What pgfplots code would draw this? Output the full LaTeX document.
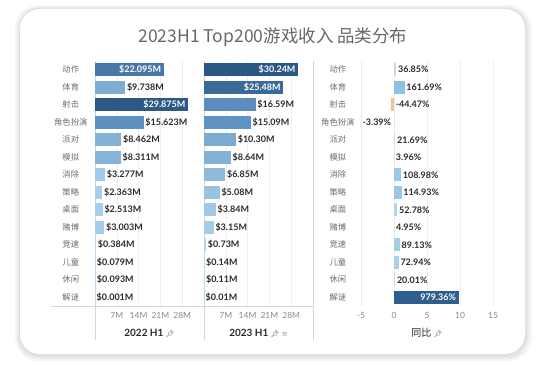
\documentclass[border=0pt]{standalone}
\usepackage{pgfplots}
\pgfplotsset{compat=1.18}
\usepackage{fontspec}
\setmainfont{Noto Sans CJK SC}[BoldFont={Noto Sans CJK SC Bold}]
\newfontfamily\numfont{Lato}
\newfontfamily\emo{Noto Emoji}
\newfontfamily\djv{DejaVu Sans}
\definecolor{cL}{HTML}{B5DBF2}
\definecolor{cM}{HTML}{5F93C3}
\definecolor{cD}{HTML}{2A5783}
\definecolor{gridc}{HTML}{EEEEEE}
\definecolor{divc}{HTML}{D6D6D6}
\definecolor{labc}{HTML}{6E6E6E}
\definecolor{tickc}{HTML}{8A8A8A}
\definecolor{valc}{HTML}{2A2A2A}
\definecolor{titlec}{HTML}{686868}
\definecolor{g0}{HTML}{C5D9E6}
\definecolor{g1}{HTML}{8CC3E2}
\definecolor{g2}{HTML}{EFC38F}
\definecolor{g3}{HTML}{EFE3D3}
\definecolor{g4}{HTML}{CFDCE6}
\definecolor{g5}{HTML}{DEE3E8}
\definecolor{g6}{HTML}{98C9E5}
\definecolor{g7}{HTML}{97C8E4}
\definecolor{g8}{HTML}{B5D5E9}
\definecolor{g9}{HTML}{DEE3E8}
\definecolor{g10}{HTML}{A1CDE7}
\definecolor{g11}{HTML}{A9D1E8}
\definecolor{g12}{HTML}{D0DDE7}
\definecolor{g13}{HTML}{2E5E8D}
\newcommand\pin{{\emo\fontsize{7}{7}\selectfont\textcolor{black!70}{📌}}}
\pgfplotsset{
 panel/.style={scale only axis, height=245pt, ymin=-0.5, ymax=13.5, y dir=reverse,
   ytick={0,...,13}, axis line style={draw=none}, major tick length=0pt,
   xmajorgrids, grid style={gridc, line width=0.5pt},
   tick label style={font=\numfont\fontsize{8.5}{9}\selectfont, text=tickc},
   xticklabel style={yshift=-3pt},
   /pgf/number format/assume math mode=true, clip=false,
   xlabel style={at={(axis description cs:0.5,0)}, anchor=center, yshift=-27pt, text=valc}},
 cats/.style={yticklabels={动作,体育,射击,角色扮演,派对,模拟,消除,策略,桌面,赌博,竞速,儿童,休闲,解谜},
   yticklabel style={font=\fontsize{8.3}{9}\selectfont, text=labc, text width=44pt, align=center, inner xsep=0pt, anchor=east, xshift=#1}},
 bb/.style={xbar, bar width=13pt, bar shift=0pt, draw=none, fill=#1},
 outv/.style={nodes near coords align=horizontal, every node near coord/.style={anchor=west, inner sep=1.5pt, font=\numfont\bfseries\fontsize{9}{10}\selectfont, text=valc}},
 inv/.style={nodes near coords align=horizontal, every node near coord/.style={anchor=east, inner sep=1.5pt, xshift=-1pt, font=\numfont\bfseries\fontsize{9}{10}\selectfont, text=white}},
}
\begin{document}
\begin{tikzpicture}[x=1pt,y=1pt]
\path[use as bounding box] (0,0) rectangle (537,364);
\fill[black!4, rounded corners=24pt] (15,3) rectangle (532,359);
\fill[black!8, rounded corners=22pt] (17,5) rectangle (529,357);
\fill[black!12, rounded corners=21pt] (19,7) rectangle (527,356);
\fill[white, rounded corners=20pt] (20,10) rectangle (525,355);
\node[font=\fontsize{17.5}{19}\selectfont, text=titlec] at (273,327) {2023H1 Top200游戏收入 品类分布};
\draw[divc, line width=0.6pt] (95,303) -- (95,24);
\draw[divc, line width=0.6pt] (204,303) -- (204,24);
\draw[divc, line width=0.6pt] (313,303) -- (313,24);
\draw[divc, line width=0.6pt] (51,58) -- (313,58);

% Panel 1: 2022 H1
\begin{axis}[panel, cats=-2pt, at={(95pt,58pt)}, anchor=south west, width=109pt,
  xmin=0, xmax=35, xtick={7,14,21,28}, xticklabels={7M,14M,21M,28M},
  xlabel={{\numfont\bfseries 2022 H1} \pin}]
\addplot[bb=cD!46!cM, inv, nodes near coords={\$22.095M}] coordinates {(22.095,0)};
\addplot[bb=cM!64!cL, outv, nodes near coords={\$9.738M}] coordinates {(9.738,1)};
\addplot[bb=cD!98!cM, inv, nodes near coords={\$29.875M}] coordinates {(29.875,2)};
\addplot[bb=cD!3!cM, outv, nodes near coords={\$15.623M}] coordinates {(15.623,3)};
\addplot[bb=cM!56!cL, outv, nodes near coords={\$8.462M}] coordinates {(8.462,4)};
\addplot[bb=cM!55!cL, outv, nodes near coords={\$8.311M}] coordinates {(8.311,5)};
\addplot[bb=cM!22!cL, outv, nodes near coords={\$3.277M}] coordinates {(3.277,6)};
\addplot[bb=cM!16!cL, outv, nodes near coords={\$2.363M}] coordinates {(2.363,7)};
\addplot[bb=cM!17!cL, outv, nodes near coords={\$2.513M}] coordinates {(2.513,8)};
\addplot[bb=cM!20!cL, outv, nodes near coords={\$3.003M}] coordinates {(3.003,9)};
\addplot[bb=cM!3!cL, outv, nodes near coords={\$0.384M}] coordinates {(0.384,10)};
\addplot[bb=cL, outv, nodes near coords={\$0.079M}] coordinates {(0.079,11)};
\addplot[bb=cL, outv, nodes near coords={\$0.093M}] coordinates {(0.093,12)};
\addplot[bb=cL, outv, nodes near coords={\$0.001M}] coordinates {(0.001,13)};
\end{axis}

% Panel 2: 2023 H1
\begin{axis}[panel, ytick=\empty, at={(204pt,58pt)}, anchor=south west, width=109pt,
  xmin=0, xmax=35, xtick={7,14,21,28}, xticklabels={7M,14M,21M,28M},
  xlabel={{\numfont\bfseries 2023 H1} \pin\ {\djv\fontsize{7}{7}\selectfont\textcolor{black!40}{≡}}}]
\addplot[bb=cD, inv, nodes near coords={\$30.24M}] coordinates {(30.24,0)};
\addplot[bb=cD!69!cM, inv, nodes near coords={\$25.48M}] coordinates {(25.48,1)};
\addplot[bb=cD!10!cM, outv, nodes near coords={\$16.59M}] coordinates {(16.59,2)};
\addplot[bb=cM, outv, nodes near coords={\$15.09M}] coordinates {(15.09,3)};
\addplot[bb=cM!68!cL, outv, nodes near coords={\$10.30M}] coordinates {(10.30,4)};
\addplot[bb=cM!57!cL, outv, nodes near coords={\$8.64M}] coordinates {(8.64,5)};
\addplot[bb=cM!45!cL, outv, nodes near coords={\$6.85M}] coordinates {(6.85,6)};
\addplot[bb=cM!34!cL, outv, nodes near coords={\$5.08M}] coordinates {(5.08,7)};
\addplot[bb=cM!25!cL, outv, nodes near coords={\$3.84M}] coordinates {(3.84,8)};
\addplot[bb=cM!21!cL, outv, nodes near coords={\$3.15M}] coordinates {(3.15,9)};
\addplot[bb=cM!5!cL, outv, nodes near coords={\$0.73M}] coordinates {(0.73,10)};
\addplot[bb=cL, outv, nodes near coords={\$0.14M}] coordinates {(0.14,11)};
\addplot[bb=cL, outv, nodes near coords={\$0.11M}] coordinates {(0.11,12)};
\addplot[bb=cL, outv, nodes near coords={\$0.01M}] coordinates {(0.01,13)};
\end{axis}

% Panel 3: growth
\begin{axis}[panel, cats=-1pt, at={(361pt,58pt)}, anchor=south west, width=132pt,
  xmin=-5, xmax=15, xtick={-5,0,5,10,15}, xticklabels={-5,0,5,10,15},
  xlabel={同比 \pin}]
\addplot[bb=g0, outv, nodes near coords={36.85\%}] coordinates {(0.3685,0)};
\addplot[bb=g1, outv, nodes near coords={161.69\%}] coordinates {(1.6169,1)};
\addplot[bb=g2, outv, nodes near coords={-44.47\%}, every node near coord/.append style={xshift=3pt}] coordinates {(-0.4447,2)};
\addplot[bb=g3, outv, nodes near coords={-3.39\%}, every node near coord/.append style={anchor=east, xshift=-1pt}] coordinates {(-0.0339,3)};
\addplot[bb=g4, outv, nodes near coords={21.69\%}] coordinates {(0.2169,4)};
\addplot[bb=g5, outv, nodes near coords={3.96\%}] coordinates {(0.0396,5)};
\addplot[bb=g6, outv, nodes near coords={108.98\%}] coordinates {(1.0898,6)};
\addplot[bb=g7, outv, nodes near coords={114.93\%}] coordinates {(1.1493,7)};
\addplot[bb=g8, outv, nodes near coords={52.78\%}] coordinates {(0.5278,8)};
\addplot[bb=g9, outv, nodes near coords={4.95\%}] coordinates {(0.0495,9)};
\addplot[bb=g10, outv, nodes near coords={89.13\%}] coordinates {(0.8913,10)};
\addplot[bb=g11, outv, nodes near coords={72.94\%}] coordinates {(0.7294,11)};
\addplot[bb=g12, outv, nodes near coords={20.01\%}] coordinates {(0.2001,12)};
\addplot[bb=g13, inv, nodes near coords={979.36\%}] coordinates {(9.7936,13)};
\end{axis}
\end{tikzpicture}
\end{document}
